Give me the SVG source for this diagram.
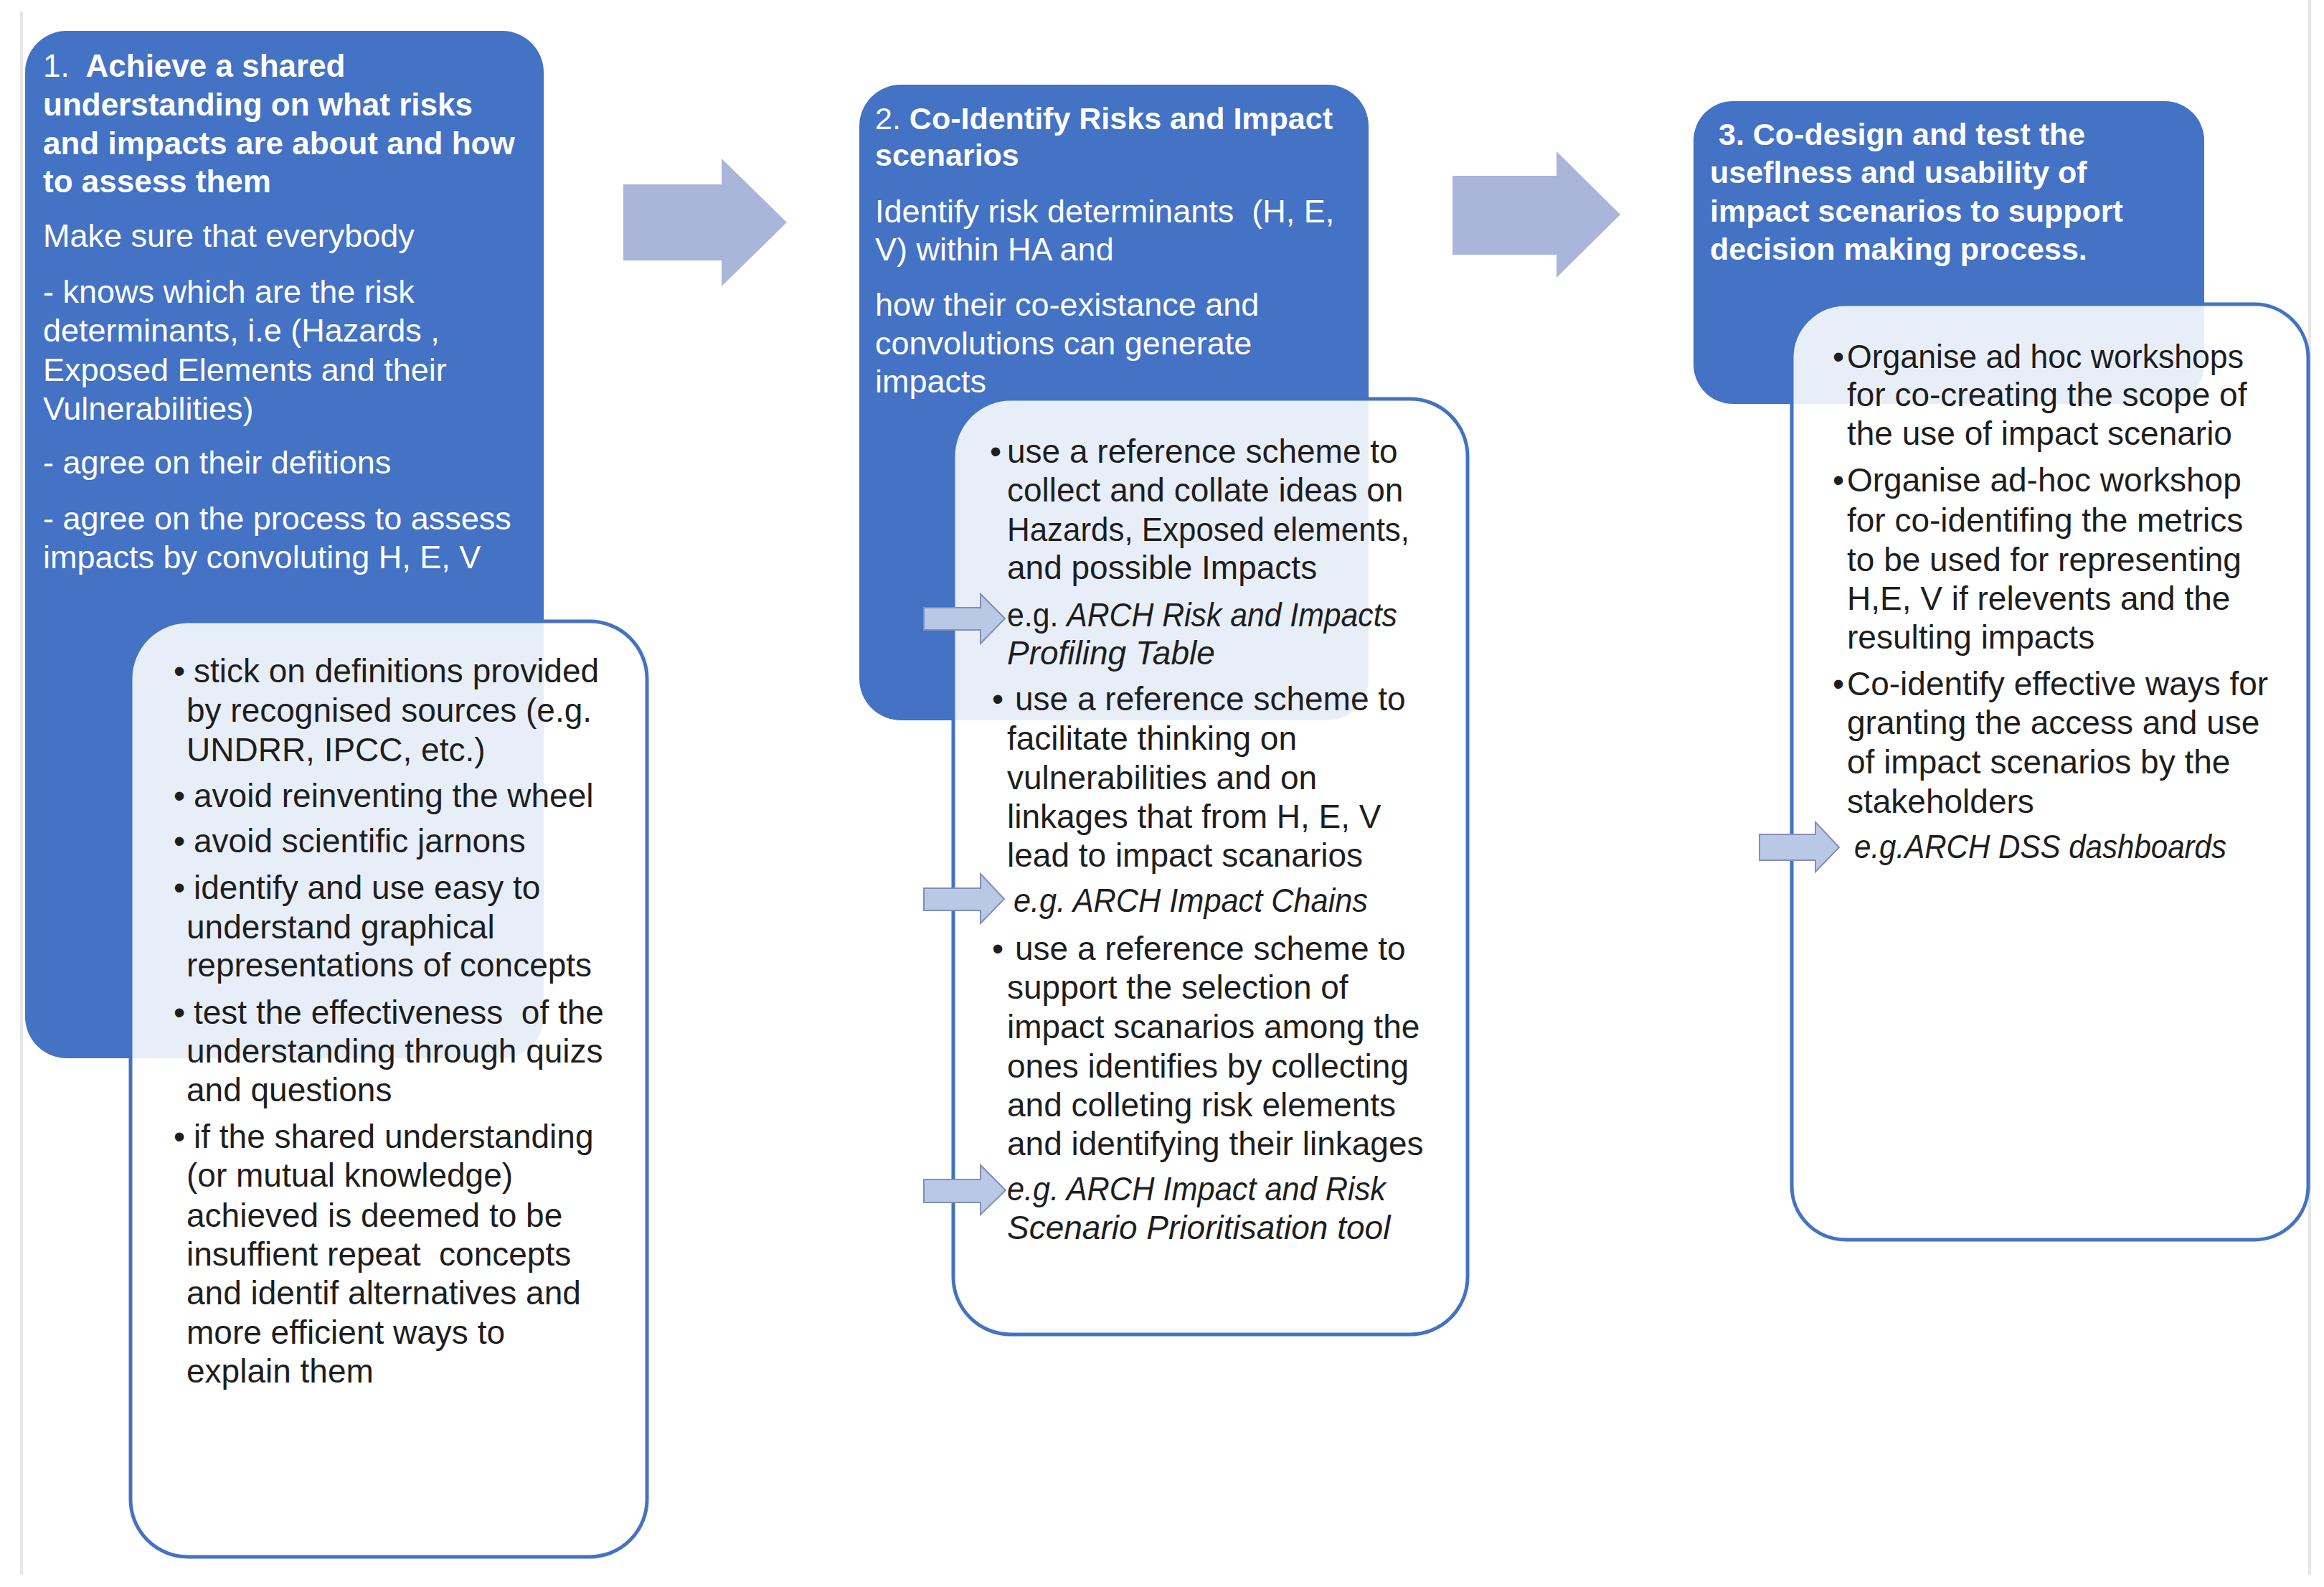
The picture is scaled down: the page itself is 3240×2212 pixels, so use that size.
<svg xmlns="http://www.w3.org/2000/svg" width="3240" height="2212" viewBox="0 0 3240 2212">
<style>
.bg{fill:#ffffff}
.edge{stroke:#e6e6e6;stroke-width:4;fill:none}
.blue{fill:#4472C4}
.card{fill:#ffffff;fill-opacity:0.88;stroke:#4472C4;stroke-width:5}
.big{fill:#AAB6D9}
.small{fill:#B9C8E5;stroke:#7F90B8;stroke-width:2}
text{font-family:"Liberation Sans",Arial,sans-serif;white-space:pre}
.w{fill:#ffffff}
.d{fill:#1e1e1e}
.b{font-weight:bold}
.i{font-style:italic}
.s44{font-size:44px}
.s43{font-size:43px}
.s45{font-size:45px}
.s46{font-size:46px}
</style>
<rect class="bg" x="0" y="0" width="3240" height="2212"/>
<line class="edge" x1="30" y1="16" x2="30" y2="2195"/>
<line class="edge" x1="3220" y1="0" x2="3220" y2="2195"/>

<g id="step1">
<rect class="blue" x="35" y="43" width="723" height="1432" rx="58"/>
<text class="w s44" x="60" y="107">1.<tspan class="b">  Achieve a shared</tspan></text>
<text class="w s44 b" x="60" y="161">understanding on what risks</text>
<text class="w s44 b" x="60" y="215">and impacts are about and how</text>
<text class="w s44 b" x="60" y="268">to assess them</text>
<text class="w s45" x="60" y="344">Make sure that everybody</text>
<text class="w s45" x="60" y="422">- knows which are the risk</text>
<text class="w s45" x="60" y="476">determinants, i.e (Hazards ,</text>
<text class="w s45" x="60" y="531">Exposed Elements and their</text>
<text class="w s45" x="60" y="585">Vulnerabilities)</text>
<text class="w s45" x="60" y="660">- agree on their defitions</text>
<text class="w s45" x="60" y="738">- agree on the process to assess</text>
<text class="w s45" x="60" y="792">impacts by convoluting H, E, V</text>
</g>

<g id="step2">
<rect class="blue" x="1198" y="118" width="710" height="886" rx="58"/>
<text class="w s43" x="1220" y="180">2.<tspan class="b"> Co-Identify Risks and Impact</tspan></text>
<text class="w s43 b" x="1220" y="231">scenarios</text>
<text class="w s45" x="1220" y="310">Identify risk determinants  (H, E,</text>
<text class="w s45" x="1220" y="363">V) within HA and</text>
<text class="w s45" x="1220" y="440">how their co-existance and</text>
<text class="w s45" x="1220" y="494">convolutions can generate</text>
<text class="w s45" x="1220" y="547">impacts</text>
</g>

<g id="step3">
<rect class="blue" x="2361" y="141" width="712" height="422" rx="55"/>
<text class="w s43 b" x="2396" y="202">3. Co-design and test the</text>
<text class="w s43 b" x="2384" y="255">useflness and usability of</text>
<text class="w s43 b" x="2384" y="309">impact scenarios to support</text>
<text class="w s43 b" x="2384" y="362">decision making process.</text>
</g>

<g id="card1">
<rect class="card" x="182" y="866" width="720" height="1304" rx="80"/>
<text class="d s46" x="242" y="951">•</text>
<text class="d s46" x="270" y="951">stick on definitions provided</text>
<text class="d s46" x="260" y="1006">by recognised sources (e.g.</text>
<text class="d s46" x="260" y="1061">UNDRR, IPCC, etc.)</text>
<text class="d s46" x="242" y="1125">•</text>
<text class="d s46" x="270" y="1125">avoid reinventing the wheel</text>
<text class="d s46" x="242" y="1188">•</text>
<text class="d s46" x="270" y="1188">avoid scientific jarnons</text>
<text class="d s46" x="242" y="1253">•</text>
<text class="d s46" x="270" y="1253">identify and use easy to</text>
<text class="d s46" x="260" y="1308">understand graphical</text>
<text class="d s46" x="260" y="1361">representations of concepts</text>
<text class="d s46" x="242" y="1427">•</text>
<text class="d s46" x="270" y="1427">test the effectiveness  of the</text>
<text class="d s46" x="260" y="1481">understanding through quizs</text>
<text class="d s46" x="260" y="1535">and questions</text>
<text class="d s46" x="242" y="1600">•</text>
<text class="d s46" x="270" y="1600">if the shared understanding</text>
<text class="d s46" x="260" y="1654">(or mutual knowledge)</text>
<text class="d s46" x="260" y="1710">achieved is deemed to be</text>
<text class="d s46" x="260" y="1764">insuffient repeat  concepts</text>
<text class="d s46" x="260" y="1818">and identif alternatives and</text>
<text class="d s46" x="260" y="1873">more efficient ways to</text>
<text class="d s46" x="260" y="1927">explain them</text>
</g>

<g id="card2">
<rect class="card" x="1329" y="556" width="717" height="1304" rx="80"/>
<text class="d s46" x="1380" y="645">•</text>
<text class="d s46" x="1404" y="645">use a reference scheme to</text>
<text class="d s46" x="1404" y="699">collect and collate ideas on</text>
<text class="d s46" x="1404" y="754" textLength="561" lengthAdjust="spacingAndGlyphs">Hazards, Exposed elements,</text>
<text class="d s46" x="1404" y="807">and possible Impacts</text>
<text class="d s46" x="1404" y="873" textLength="544" lengthAdjust="spacingAndGlyphs">e.g. <tspan class="i">ARCH Risk and Impacts</tspan></text>
<text class="d s46 i" x="1404" y="926">Profiling Table</text>
<text class="d s46" x="1383" y="990">•</text>
<text class="d s46" x="1415" y="990">use a reference scheme to</text>
<text class="d s46" x="1404" y="1045">facilitate thinking on</text>
<text class="d s46" x="1404" y="1100">vulnerabilities and on</text>
<text class="d s46" x="1404" y="1154">linkages that from H, E, V</text>
<text class="d s46" x="1404" y="1208">lead to impact scanarios</text>
<text class="d s46 i" x="1413" y="1271" textLength="494" lengthAdjust="spacingAndGlyphs">e.g. ARCH Impact Chains</text>
<text class="d s46" x="1383" y="1338">•</text>
<text class="d s46" x="1415" y="1338">use a reference scheme to</text>
<text class="d s46" x="1404" y="1392">support the selection of</text>
<text class="d s46" x="1404" y="1447">impact scanarios among the</text>
<text class="d s46" x="1404" y="1502">ones identifies by collecting</text>
<text class="d s46" x="1404" y="1556">and colleting risk elements</text>
<text class="d s46" x="1404" y="1610">and identifying their linkages</text>
<text class="d s46 i" x="1404" y="1673" textLength="528" lengthAdjust="spacingAndGlyphs">e.g. ARCH Impact and Risk</text>
<text class="d s46 i" x="1404" y="1727">Scenario Prioritisation tool</text>
</g>

<g id="card3">
<rect class="card" x="2498" y="424" width="720" height="1304" rx="75"/>
<text class="d s46" x="2555" y="513">•</text>
<text class="d s46" x="2575" y="513" textLength="553" lengthAdjust="spacingAndGlyphs">Organise ad hoc workshops</text>
<text class="d s46" x="2575" y="566">for co-creating the scope of</text>
<text class="d s46" x="2575" y="620">the use of impact scenario</text>
<text class="d s46" x="2555" y="685">•</text>
<text class="d s46" x="2575" y="685">Organise ad-hoc workshop</text>
<text class="d s46" x="2575" y="741">for co-identifing the metrics</text>
<text class="d s46" x="2575" y="796">to be used for representing</text>
<text class="d s46" x="2575" y="850">H,E, V if relevents and the</text>
<text class="d s46" x="2575" y="904">resulting impacts</text>
<text class="d s46" x="2555" y="969">•</text>
<text class="d s46" x="2575" y="969">Co-identify effective ways for</text>
<text class="d s46" x="2575" y="1023">granting the access and use</text>
<text class="d s46" x="2575" y="1078">of impact scenarios by the</text>
<text class="d s46" x="2575" y="1133">stakeholders</text>
<text class="d s46 i" x="2585" y="1196" textLength="519" lengthAdjust="spacingAndGlyphs">e.g.ARCH DSS dashboards</text>
</g>

<g id="connectors">
<path class="big" d="M869,257 L1006,257 L1006,221 L1097,310 L1006,399 L1006,363 L869,363 Z"/>
<path class="big" d="M2025,245 L2170,245 L2170,211 L2259,299 L2170,387 L2170,355 L2025,355 Z"/>
<path class="small" d="M1288,847 L1367,847 L1367,828 L1401,862 L1367,897 L1367,878 L1288,878 Z"/>
<path class="small" d="M1288,1238 L1367,1238 L1367,1218 L1400,1253 L1367,1287 L1367,1269 L1288,1269 Z"/>
<path class="small" d="M1288,1644 L1367,1644 L1367,1624 L1402,1659 L1367,1693 L1367,1676 L1288,1676 Z"/>
<path class="small" d="M2453,1163 L2531,1163 L2531,1146 L2564,1181 L2531,1215 L2531,1199 L2453,1199 Z"/>
</g>
</svg>
